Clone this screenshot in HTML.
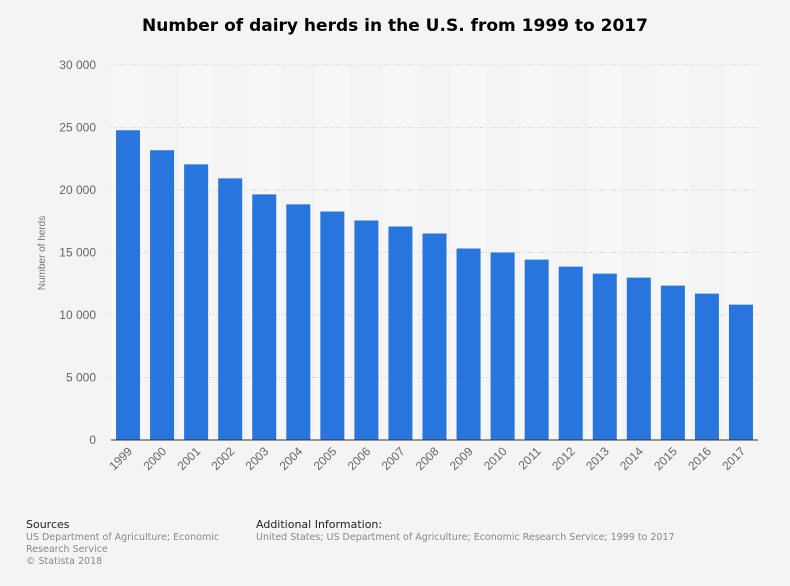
<!DOCTYPE html>
<html><head><meta charset="utf-8"><style>
body{margin:0;background:#f4f4f4;font-family:"Liberation Sans",sans-serif;}
#wrap{position:relative;width:790px;height:586px;background:#f4f4f4;overflow:hidden}
.t{position:absolute;white-space:nowrap}
</style></head><body>
<div id="wrap">
<div class="t" style="left:0;width:790px;text-align:center;top:16px;font-size:17px;font-weight:bold;color:#000;font-family:'DejaVu Sans',sans-serif">Number of dairy herds in the U.S. from 1999 to 2017</div>
<svg id="chart" width="790" height="500" style="position:absolute;left:0;top:0"></svg>
<div class="t" style="left:26px;top:518px;font-size:11px;color:#222;font-family:'DejaVu Sans',sans-serif">Sources</div>
<div class="t" style="left:26px;top:532px;font-size:9.5px;color:#888;line-height:12px;font-family:'DejaVu Sans',sans-serif">US Department of Agriculture; Economic<br>Research Service<br>© Statista 2018</div>
<div class="t" style="left:256px;top:518px;font-size:11px;color:#222;font-family:'DejaVu Sans',sans-serif">Additional Information:</div>
<div class="t" style="left:256px;top:532px;font-size:9.5px;color:#888;font-family:'DejaVu Sans',sans-serif">United States; US Department of Agriculture; Economic Research Service; 1999 to 2017</div>
</div>
<script>
const categories=["1999","2000","2001","2002","2003","2004","2005","2006","2007","2008","2009","2010","2011","2012","2013","2014","2015","2016","2017"];
const values=[24780,23180,22050,20930,19650,18850,18280,17560,17080,16520,15320,15000,14430,13870,13310,12990,12350,11710,10830];
const yTicks=[0,5000,10000,15000,20000,25000,30000];
const yTickLabels=["0","5 000","10 000","15 000","20 000","25 000","30 000"];
const NS="http://www.w3.org/2000/svg";
const svg=document.getElementById('chart');
const x0=111,x1=758,yBase=440,yTop=65,yMax=30000;
const y=v=>yBase-(v/yMax)*(yBase-yTop);
const step=(x1-x0)/categories.length;
const xc=i=>x0+step*(i+0.5);
function mk(t,a){const e=document.createElementNS(NS,t);for(const k in a)e.setAttribute(k,a[k]);svg.appendChild(e);return e;}
categories.forEach((c,i)=>{if(i%2==0){const s=mk('rect',{x:x0+step*i,y:yTop,width:step,height:yBase-yTop,fill:'#f7f7f7'});

}});
yTicks.forEach((v,i)=>{
 if(v>0){const g=mk('line',{x1:x0,x2:x1,y1:y(v),y2:y(v),stroke:'#ccc','stroke-dasharray':'1,2'});
 
 }
 const t=mk('text',{x:96,y:y(v)+4,'text-anchor':'end','font-size':12,fill:'#666','font-family':'Liberation Sans'});
 t.textContent=yTickLabels[i];
 
 
});
values.forEach((v,i)=>{
 const r=mk('rect',{x:xc(i)-12,y:y(v),width:24,height:yBase-y(v),fill:'#2876dd'});
 
 
 const t=mk('text',{x:xc(i)+5,y:452,'text-anchor':'end','font-size':12,fill:'#666','font-family':'Liberation Sans',transform:`rotate(-45 ${xc(i)+5} 452)`});
 t.textContent=categories[i];
 
 
});
const ax=mk('line',{x1:x0,x2:x1,y1:yBase,y2:yBase,stroke:'#333','stroke-width':1});


const yt=mk('text',{x:45,y:253,'text-anchor':'middle','font-size':10,fill:'#777','font-family':'Liberation Sans',transform:'rotate(-90 45 253)'});
yt.textContent='Number of herds';


</script>
</body></html>
